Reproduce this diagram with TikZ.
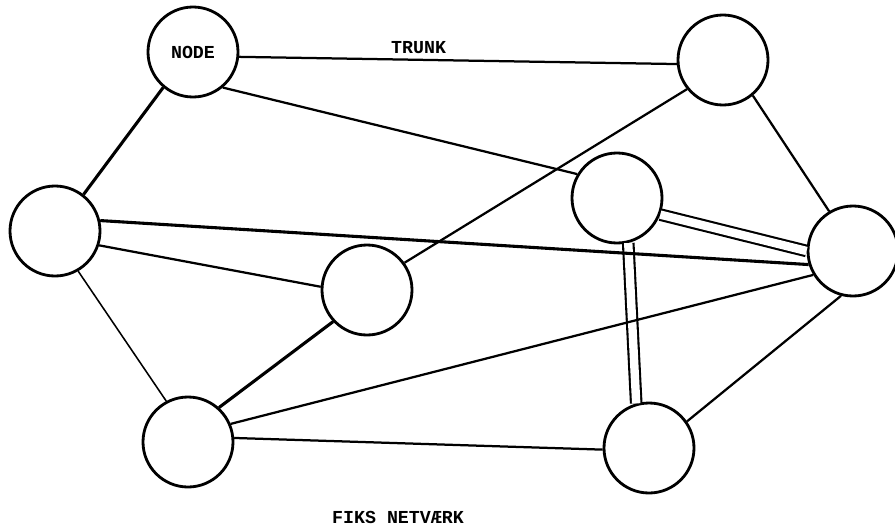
\documentclass[tikz,border=0pt]{standalone}
\usepackage{fontspec}
\setmonofont{Liberation Mono}

\begin{document}
\begin{tikzpicture}[x=0.25mm, y=-0.25mm,
  font=\ttfamily\bfseries\fontsize{13}{15}\selectfont,
  station/.style={circle, draw, line width=2pt, minimum size=22.5mm, inner sep=0pt},
  link/.style={line width=1.6pt},
  heavy link/.style={line width=2.2pt},
  light link/.style={line width=1.1pt},
  pair link/.style={double, double distance=2.1mm, line width=1.5pt}]
  \useasboundingbox (0,0) rectangle (895,526);
  % stations
  \node[station] (node) at (193,52) {NODE};
  \node[station] (ne)   at (723,60) {};
  \node[station] (w)    at (55,231) {};
  \node[station] (mid)  at (367,290) {};
  \node[station] (hub)  at (617,198) {};
  \node[station] (e)    at (853,251) {};
  \node[station] (sw)   at (188,442) {};
  \node[station] (se)   at (649,448) {};
  % double trunks first, so the single ones cross over them
  \draw[pair link] (hub.-21) -- (e.180);
  \draw[pair link] (hub.-76) -- (se.106);
  % single trunks
  \draw[link] (node.-6) -- node[pos=0.41, above] (trunk) {TRUNK} (ne.185);
  \draw[heavy link] (node.-130) -- (w.52);
  \draw[link] (node.-50) -- (hub.149);
  \draw[link] (ne.219) -- (mid.36);
  \draw[link] (ne.-50) -- (e.121);
  \draw[heavy link] (w.13) -- (e.197);
  \draw[link] (w.-18) -- (mid.176);
  \draw[light link] (w.-60) -- (sw.118);
  \draw[heavy link] (mid.-137) -- (sw.48);
  \draw[link] (e.211) -- (sw.23);
  \draw[link] (e.-105) -- (se.35);
  \draw[link] (sw.5) -- (se.182);
  % caption
  \node (caption) at (398,517) {FIKS NETVÆRK};
\end{tikzpicture}
\end{document}
